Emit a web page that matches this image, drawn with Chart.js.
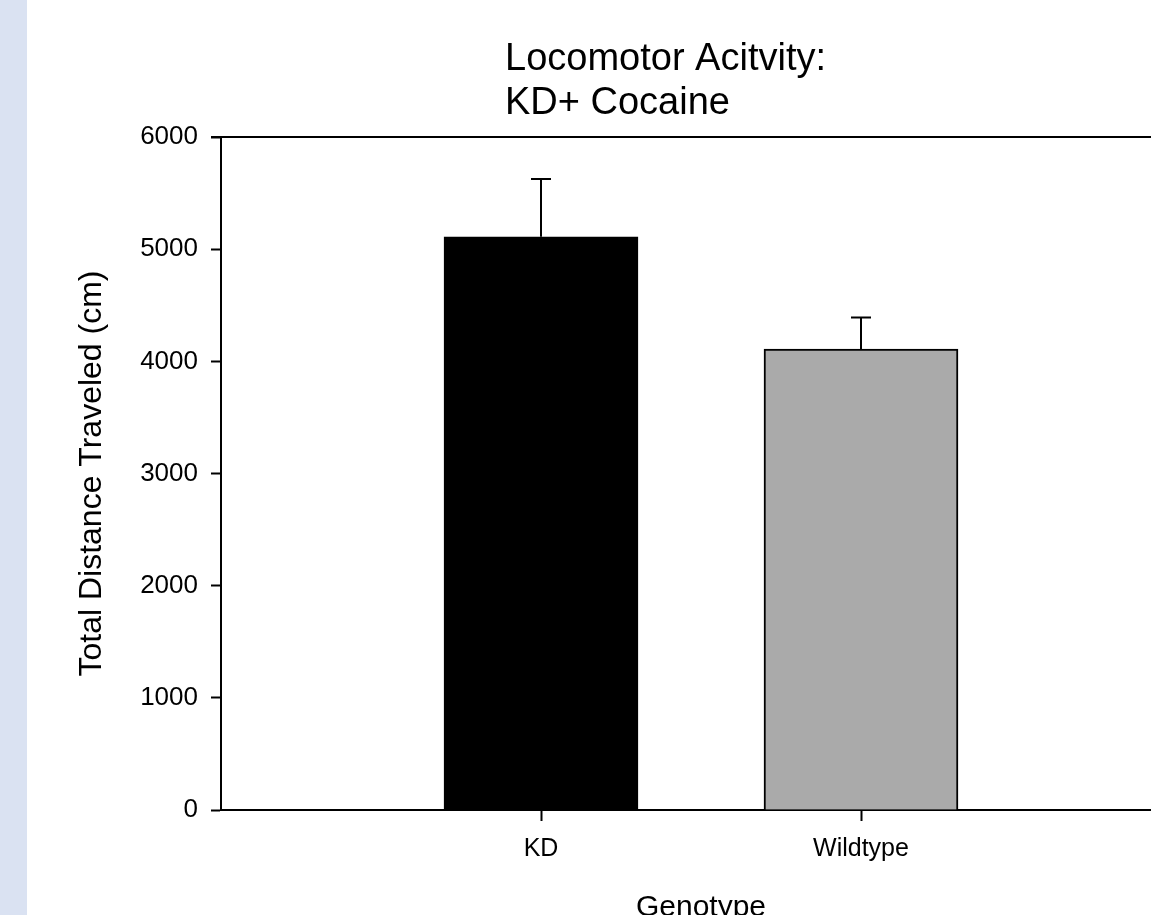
<!DOCTYPE html>
<html>
<head>
<meta charset="utf-8">
<script src="https://cdn.jsdelivr.net/npm/chart.js@4"></script>
<style>
  html, body { margin: 0; padding: 0; background: #ffffff; overflow: hidden; }
  #wrap { position: relative; width: 1151px; height: 915px; overflow: hidden; }
  #strip { position: absolute; left: 0; top: 0; width: 27px; height: 915px; background: #dae2f2; z-index: 2; }
  #c { position: absolute; left: 0; top: 0; }
</style>
</head>
<body>
<div id="wrap">
  <div id="strip"></div>
  <canvas id="c" width="1181" height="950"></canvas>
</div>
<script>
// Genotype groups and their mean total distance (cm) with standard error
const categories = ['KD', 'Wildtype'];
const means = [5110, 4110];
const errors = [515, 280];
const barColors = ['#000000', '#aaaaaa'];
const yTicks = [0, 1000, 2000, 3000, 4000, 5000, 6000];
const titleLines = ['Locomotor Acitvity:', 'KD+ Cocaine'];

const FONT = "'Liberation Sans', Arial, sans-serif";
Chart.defaults.color = '#000000';
Chart.defaults.font.family = FONT;

// Error bars (upper half only) drawn from the scales
const errorBars = {
  id: 'errorBars',
  afterDatasetsDraw(chart) {
    const { ctx, scales: { x, y } } = chart;
    ctx.save();
    ctx.strokeStyle = '#000000';
    ctx.lineWidth = 2;
    categories.forEach((c, i) => {
      const px = x.getPixelForValue(i + 1);
      const y0 = y.getPixelForValue(means[i]);
      const y1 = y.getPixelForValue(means[i] + errors[i]);
      ctx.beginPath();
      ctx.moveTo(px, y0);
      ctx.lineTo(px, y1);
      ctx.moveTo(px - 10, y1);
      ctx.lineTo(px + 10, y1);
      ctx.stroke();
    });
    ctx.restore();
  }
};

// Top frame line and the two-line left-aligned heading
const frameAndTitle = {
  id: 'frameAndTitle',
  afterDraw(chart) {
    const { ctx, chartArea } = chart;
    ctx.save();
    ctx.strokeStyle = '#000000';
    ctx.lineWidth = 2;
    ctx.beginPath();
    ctx.moveTo(chartArea.left - 10, chartArea.top);
    ctx.lineTo(chartArea.right, chartArea.top);
    ctx.stroke();
    ctx.fillStyle = '#000000';
    ctx.font = '38px ' + FONT;
    ctx.textAlign = 'left';
    ctx.textBaseline = 'alphabetic';
    ctx.fillText(titleLines[0], 505, 70);
    ctx.fillText(titleLines[1], 505, 114);
    ctx.restore();
  }
};

new Chart(document.getElementById('c'), {
  type: 'bar',
  data: {
    datasets: [{
      data: categories.map((c, i) => ({ x: i + 1, y: means[i] })),
      backgroundColor: barColors,
      borderColor: '#000000',
      borderWidth: 2,
      barThickness: 194
    }]
  },
  options: {
    responsive: false,
    animation: false,
    devicePixelRatio: 1,
    layout: { padding: { top: 137, left: 0, right: 0, bottom: 0 } },
    plugins: { legend: { display: false }, tooltip: { enabled: false }, title: { display: false } },
    scales: {
      x: {
        type: 'linear',
        min: 0,
        max: 3,
        offset: false,
        afterBuildTicks: (s) => { s.ticks = categories.map((c, i) => ({ value: i + 1 })); },
        afterFit: (s) => { s.height = 140; },
        ticks: {
          callback: (v) => categories[v - 1],
          font: { size: 25 },
          color: '#000000',
          padding: 13,
          maxRotation: 0
        },
        grid: { offset: false, drawOnChartArea: false, tickLength: 11, tickColor: '#000000', tickWidth: 2 },
        border: { display: true, color: '#000000', width: 2 },
        title: { display: true, text: 'Genotype', font: { size: 30 }, color: '#000000', padding: { top: 0, bottom: 24 } }
      },
      y: {
        min: 0,
        max: 6000,
        afterBuildTicks: (s) => { s.ticks = yTicks.map(v => ({ value: v })); },
        afterFit: (s) => { s.width = 221; },
        ticks: { font: { size: 26 }, color: '#000000', padding: 13, callback: (v) => String(v) },
        grid: { drawOnChartArea: false, tickLength: 10, tickColor: '#000000', tickWidth: 2 },
        border: { display: true, color: '#000000', width: 2 },
        title: { display: true, text: 'Total Distance Traveled (cm)', font: { size: 32 }, color: '#000000', padding: { top: 73, bottom: 0 } }
      }
    }
  },
  plugins: [errorBars, frameAndTitle]
});
</script>
</body>
</html>
